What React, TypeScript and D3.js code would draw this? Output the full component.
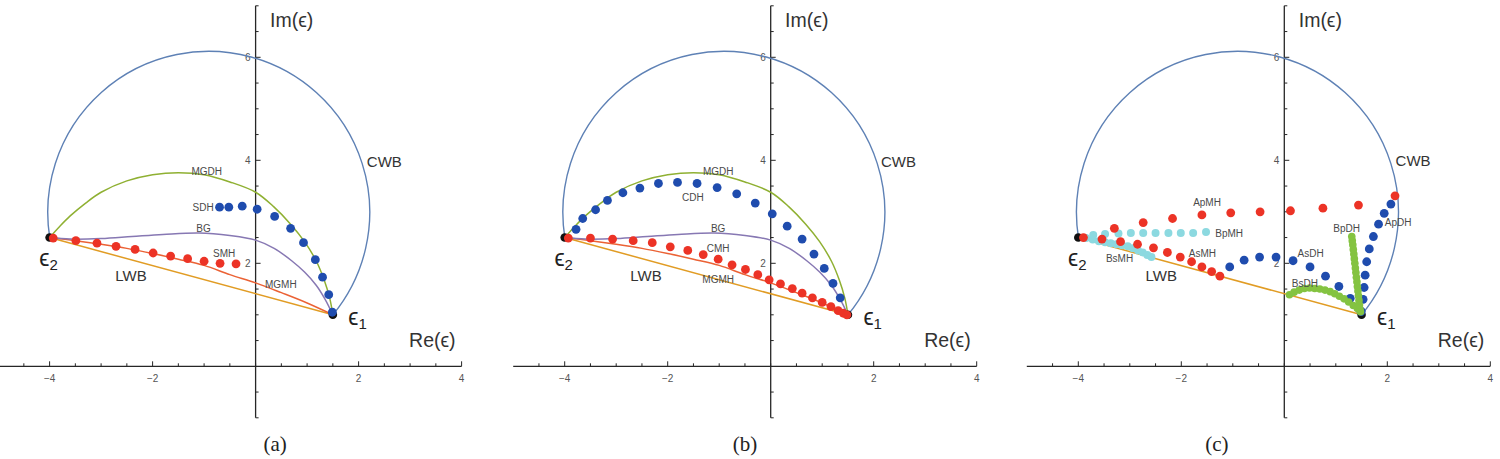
import { useEffect, useRef } from "react";
import * as d3 from "d3";

type Pt = [number, number];

// End members
const EPS1: Pt = [1.5, 1.0];
const EPS2: Pt = [-4.0, 2.5];

// Circular Wiener bound: circle arc through eps1 and eps2 (passes through 0)
const CWB_CENTER: Pt = [-0.91, 2.99];
const CWB_RADIUS = 3.126;

// Linear Wiener bound
const LWB: Pt[] = [EPS2, EPS1];

const MGDH: Pt[] = [
  [-4.0, 2.5], [-3.8, 2.72], [-3.6, 2.92], [-3.3, 3.17], [-3.0, 3.38], [-2.5, 3.6],
  [-2.0, 3.72], [-1.5, 3.76], [-1.0, 3.72], [-0.5, 3.58], [0.0, 3.38], [0.35, 3.1],
  [0.68, 2.76], [0.95, 2.42], [1.18, 2.04], [1.33, 1.68], [1.44, 1.32], [1.5, 1.0],
];

const BG: Pt[] = [
  [-4.0, 2.5], [-3.6, 2.47], [-3.0, 2.48], [-2.4, 2.52], [-1.8, 2.56], [-1.1, 2.59],
  [-0.5, 2.54], [0.0, 2.45], [0.36, 2.29], [0.7, 2.05], [0.95, 1.83], [1.18, 1.57],
  [1.35, 1.3], [1.5, 1.0],
];

const MGMH: Pt[] = [
  [-4.0, 2.5], [-3.5, 2.44], [-3.0, 2.37], [-2.5, 2.29], [-2.0, 2.19], [-1.5, 2.08],
  [-1.0, 1.96], [-0.5, 1.78], [0.0, 1.62], [0.5, 1.43], [1.0, 1.23], [1.5, 1.0],
];

// (a) spherical inclusions
const SDH: Pt[] = [
  [-0.7, 3.09], [-0.52, 3.09], [-0.26, 3.11], [0.03, 3.05], [0.37, 2.91], [0.68, 2.68],
  [0.93, 2.4], [1.16, 2.07], [1.3, 1.73], [1.42, 1.39], [1.49, 1.05],
];
const SMH: Pt[] = [
  [-3.93, 2.49], [-3.49, 2.44], [-3.08, 2.39], [-2.71, 2.33], [-2.34, 2.27], [-1.99, 2.2],
  [-1.65, 2.14], [-1.32, 2.09], [-1.0, 2.04], [-0.69, 2.0], [-0.38, 1.99],
];

// (b) cylindrical inclusions
const CDH: Pt[] = [
  [-3.78, 2.66], [-3.65, 2.87], [-3.4, 3.04], [-3.17, 3.22], [-2.87, 3.37], [-2.54, 3.46],
  [-2.18, 3.55], [-1.81, 3.57], [-1.43, 3.55], [-1.04, 3.47], [-0.66, 3.35], [-0.3, 3.17],
  [0.03, 2.96], [0.32, 2.72], [0.61, 2.47], [0.84, 2.18], [1.04, 1.9], [1.21, 1.61],
  [1.35, 1.33],
];
const CMH: Pt[] = [
  [-3.93, 2.49], [-3.5, 2.49], [-3.07, 2.47], [-2.67, 2.44], [-2.3, 2.4], [-1.95, 2.32],
  [-1.61, 2.25], [-1.31, 2.17], [-1.02, 2.08], [-0.75, 1.97], [-0.49, 1.88], [-0.25, 1.78],
  [-0.03, 1.68], [0.19, 1.6], [0.42, 1.51], [0.61, 1.42], [0.81, 1.33], [1.0, 1.24],
  [1.17, 1.16], [1.31, 1.08], [1.41, 1.03], [1.48, 1.0],
];

// (c) anisotropic inclusions
const ApMH: Pt[] = [
  [-3.9, 2.5], [-3.3, 2.68], [-2.74, 2.79], [-2.17, 2.87], [-1.6, 2.94], [-1.04, 2.98],
  [-0.47, 3.0], [0.12, 3.02], [0.75, 3.07], [1.44, 3.13], [2.15, 3.31],
];
const AsMH: Pt[] = [
  [-3.54, 2.47], [-3.18, 2.42], [-2.85, 2.37], [-2.54, 2.3], [-2.27, 2.21], [-2.02, 2.12],
  [-1.8, 2.03], [-1.6, 1.93], [-1.41, 1.84], [-1.25, 1.75],
];
const BpMH: Pt[] = [
  [-3.71, 2.55], [-3.48, 2.57], [-3.22, 2.58], [-2.98, 2.59], [-2.74, 2.59], [-2.5, 2.59],
  [-2.25, 2.59], [-2.01, 2.59], [-1.77, 2.59], [-1.52, 2.61],
];
const BsMH: Pt[] = [
  [-3.85, 2.49], [-3.72, 2.46], [-3.6, 2.43], [-3.48, 2.41], [-3.37, 2.39], [-3.26, 2.37],
  [-3.15, 2.35], [-3.04, 2.33], [-2.94, 2.29], [-2.84, 2.25], [-2.75, 2.21], [-2.66, 2.16],
  [-2.58, 2.12],
];
const ApDH: Pt[] = [
  [1.49, 1.06], [1.53, 1.3], [1.55, 1.53], [1.57, 1.77], [1.6, 2.03], [1.65, 2.28],
  [1.73, 2.52], [1.83, 2.76], [1.94, 2.97], [2.07, 3.15],
];
const AsDH: Pt[] = [
  [-1.06, 1.93], [-0.78, 2.06], [-0.48, 2.12], [-0.16, 2.12], [0.17, 2.05], [0.5, 1.93],
  [0.8, 1.75], [1.06, 1.55], [1.28, 1.32], [1.49, 1.07],
];
const BpDH: Pt[] = [
  [1.47, 1.1], [1.46, 1.19], [1.45, 1.28], [1.44, 1.37], [1.43, 1.46], [1.42, 1.55],
  [1.41, 1.64], [1.4, 1.73], [1.39, 1.82], [1.38, 1.91], [1.37, 2.0], [1.36, 2.09],
  [1.35, 2.18], [1.34, 2.27], [1.33, 2.36], [1.32, 2.44], [1.31, 2.52],
];
const BsDH: Pt[] = [
  [0.1, 1.39], [0.19, 1.44], [0.29, 1.48], [0.39, 1.51], [0.49, 1.52], [0.59, 1.51],
  [0.69, 1.5], [0.79, 1.48], [0.89, 1.45], [0.98, 1.41], [1.07, 1.36], [1.16, 1.31],
  [1.25, 1.25], [1.34, 1.18], [1.42, 1.12], [1.48, 1.06],
];

const X_TICKS = [-4, -2, 2, 4];
const Y_TICKS = [2, 4, 6];
const CAPTIONS = ["(a)", "(b)", "(c)"];

const C_BLUE = "#5e81b5";
const C_ORANGE = "#e19c24";
const C_GREEN = "#8fb032";
const C_RED = "#eb6235";
const C_PURPLE = "#8778b3";
const D_BLUE = "#1f4cae";
const D_RED = "#ec3326";
const D_CYAN = "#8cd9e0";
const D_GREEN = "#84c341";

type Curve = { pts: Pt[]; color: string };
type Dots = { pts: Pt[]; color: string; r: number };
type Label = { text: string; at: Pt; size: number };

type Panel = {
  zeroX: number;
  curves: Curve[];
  dots: Dots[];
  labels: Label[];
  caption: Pt;
};

const PANELS: Panel[] = [
  {
    zeroX: 255.6,
    curves: [
      { pts: LWB, color: C_ORANGE },
      { pts: MGMH, color: C_RED },
      { pts: BG, color: C_PURPLE },
      { pts: MGDH, color: C_GREEN },
    ],
    dots: [
      { pts: SMH, color: D_RED, r: 4.4 },
      { pts: SDH, color: D_BLUE, r: 4.4 },
    ],
    labels: [
      { text: "MGDH", at: [-0.95, 3.79], size: 10 },
      { text: "SDH", at: [-1.02, 3.08], size: 10 },
      { text: "BG", at: [-1.01, 2.67], size: 10 },
      { text: "SMH", at: [-0.61, 2.19], size: 10 },
      { text: "MGMH", at: [0.49, 1.58], size: 10 },
      { text: "CWB", at: [2.5, 3.97], size: 15 },
      { text: "LWB", at: [-2.42, 1.76], size: 15 },
    ],
    caption: [0.38, -1.64],
  },
  {
    zeroX: 770.7,
    curves: [
      { pts: LWB, color: C_ORANGE },
      { pts: MGMH, color: C_RED },
      { pts: BG, color: C_PURPLE },
      { pts: MGDH, color: C_GREEN },
    ],
    dots: [
      { pts: CDH, color: D_BLUE, r: 4.4 },
      { pts: CMH, color: D_RED, r: 4.4 },
    ],
    labels: [
      { text: "MGDH", at: [-1.02, 3.79], size: 10 },
      { text: "CDH", at: [-1.51, 3.28], size: 10 },
      { text: "BG", at: [-1.02, 2.68], size: 10 },
      { text: "CMH", at: [-1.02, 2.28], size: 10 },
      { text: "MGMH", at: [-1.02, 1.68], size: 10 },
      { text: "CWB", at: [2.48, 3.97], size: 15 },
      { text: "LWB", at: [-2.42, 1.76], size: 15 },
    ],
    caption: [-0.5, -1.64],
  },
  {
    zeroX: 1284.3,
    curves: [{ pts: LWB, color: C_ORANGE }],
    dots: [
      { pts: BsMH, color: D_CYAN, r: 4 },
      { pts: BpMH, color: D_CYAN, r: 4 },
      { pts: AsDH, color: D_BLUE, r: 4.4 },
      { pts: ApDH, color: D_BLUE, r: 4.4 },
      { pts: AsMH, color: D_RED, r: 4.4 },
      { pts: ApMH, color: D_RED, r: 4.4 },
      { pts: BsDH, color: D_GREEN, r: 3.8 },
      { pts: BpDH, color: D_GREEN, r: 3.8 },
    ],
    labels: [
      { text: "ApMH", at: [-1.5, 3.18], size: 10 },
      { text: "BpMH", at: [-1.07, 2.58], size: 10 },
      { text: "AsMH", at: [-1.59, 2.19], size: 10 },
      { text: "BsMH", at: [-3.2, 2.1], size: 10 },
      { text: "AsDH", at: [0.51, 2.19], size: 10 },
      { text: "BsDH", at: [0.4, 1.6], size: 10 },
      { text: "BpDH", at: [1.21, 2.68], size: 10 },
      { text: "ApDH", at: [2.21, 2.79], size: 10 },
      { text: "CWB", at: [2.5, 3.99], size: 15 },
      { text: "LWB", at: [-2.39, 1.77], size: 15 },
    ],
    caption: [-1.31, -1.64],
  },
];

const UNIT = 51.5;
const ZERO_Y = 366.3;
const SANS = "'Liberation Sans', Arial, 'DejaVu Sans', sans-serif";

export default function App() {
  const ref = useRef<SVGSVGElement>(null);

  useEffect(() => {
    const svg = d3.select(ref.current);
    svg.selectAll("*").remove();

    const y = d3.scaleLinear().domain([-1, 7]).range([ZERO_Y + UNIT, ZERO_Y - 7 * UNIT]);

    PANELS.forEach((panel, i) => {
      const x = d3.scaleLinear()
        .domain([-5, 4])
        .range([panel.zeroX - 5 * UNIT, panel.zeroX + 4 * UNIT]);
      const g = svg.append("g");

      // Axes
      const axisColor = "#262626";
      g.append("line")
        .attr("x1", x(-5)).attr("x2", x(4))
        .attr("y1", y(0)).attr("y2", y(0))
        .attr("stroke", axisColor).attr("stroke-width", 1.3);
      g.append("line")
        .attr("x1", x(0)).attr("x2", x(0))
        .attr("y1", y(-1)).attr("y2", y(7))
        .attr("stroke", axisColor).attr("stroke-width", 1.3);

      // x ticks point up, every 0.5
      d3.range(-4.5, 4.01, 0.5).forEach(v => {
        const major = X_TICKS.includes(v);
        g.append("line")
          .attr("x1", x(v)).attr("x2", x(v))
          .attr("y1", y(0)).attr("y2", y(0) - (major ? 5 : 3))
          .attr("stroke", axisColor).attr("stroke-width", 1);
      });
      // y ticks point right, every 0.5
      d3.range(-1, 7.01, 0.5).forEach(v => {
        if (v === 0) return;
        const major = Y_TICKS.includes(v);
        g.append("line")
          .attr("x1", x(0)).attr("x2", x(0) + (major ? 5 : 3))
          .attr("y1", y(v)).attr("y2", y(v))
          .attr("stroke", axisColor).attr("stroke-width", 1);
      });

      g.selectAll(".xtl")
        .data(X_TICKS)
        .enter()
        .append("text")
        .attr("x", d => x(d))
        .attr("y", y(0) + 12)
        .attr("text-anchor", "middle")
        .attr("dominant-baseline", "central")
        .attr("font-family", SANS)
        .attr("font-size", "10px")
        .attr("fill", "#555")
        .text(d => (d < 0 ? `\u2212${-d}` : `${d}`));

      g.selectAll(".ytl")
        .data(Y_TICKS)
        .enter()
        .append("text")
        .attr("x", x(0) - 5)
        .attr("y", d => y(d))
        .attr("text-anchor", "end")
        .attr("dominant-baseline", "central")
        .attr("font-family", SANS)
        .attr("font-size", "10px")
        .attr("fill", "#555")
        .text(d => `${d}`);

      // CWB arc over the top, from eps1 to eps2
      const cx = x(CWB_CENTER[0]);
      const cy = y(CWB_CENTER[1]);
      const r = x(CWB_RADIUS) - x(0);
      const a1 = Math.atan2(y(EPS1[1]) - cy, x(EPS1[0]) - cx);
      const a2 = Math.atan2(y(EPS2[1]) - cy, x(EPS2[0]) - cx);
      const arc = d3.path();
      arc.arc(cx, cy, r, a1, a2, true);
      g.append("path")
        .attr("d", arc.toString())
        .attr("fill", "none")
        .attr("stroke", C_BLUE)
        .attr("stroke-width", 1.4);

      const line = d3.line<Pt>()
        .x(d => x(d[0]))
        .y(d => y(d[1]))
        .curve(d3.curveCatmullRom.alpha(0.5));

      panel.curves.forEach(c => {
        g.append("path")
          .attr("d", line(c.pts))
          .attr("fill", "none")
          .attr("stroke", c.color)
          .attr("stroke-width", 1.5);
      });

      // End-member points
      [EPS1, EPS2].forEach(p => {
        g.append("circle")
          .attr("cx", x(p[0])).attr("cy", y(p[1]))
          .attr("r", 4.3)
          .attr("fill", "#111");
      });

      panel.dots.forEach(s => {
        g.selectAll(null)
          .data(s.pts)
          .enter()
          .append("circle")
          .attr("cx", d => x(d[0]))
          .attr("cy", d => y(d[1]))
          .attr("r", s.r)
          .attr("fill", s.color);
      });

      panel.labels.forEach(l => {
        g.append("text")
          .attr("x", x(l.at[0]))
          .attr("y", y(l.at[1]))
          .attr("text-anchor", "middle")
          .attr("dominant-baseline", "central")
          .attr("font-family", SANS)
          .attr("font-size", `${l.size}px`)
          .attr("fill", l.size > 12 ? "#333" : "#4a4a4a")
          .text(l.text);
      });

      // eps labels
      const epsLabel = (at: Pt, sub: string) => {
        const t = g.append("text")
          .attr("x", x(at[0]))
          .attr("y", y(at[1]))
          .attr("text-anchor", "middle")
          .attr("font-family", SANS)
          .attr("font-size", "23px")
          .attr("fill", "#222");
        t.append("tspan").text("\u03f5");
        t.append("tspan").attr("font-size", "15px").attr("dy", 4).text(sub);
      };
      epsLabel([-4.02, 1.95], "2");
      epsLabel([1.98, 0.8], "1");

      g.append("text")
        .attr("x", x(0.28))
        .attr("y", y(6.59))
        .attr("font-family", SANS)
        .attr("font-size", "19.5px")
        .attr("fill", "#333")
        .text("Im(\u03f5)");
      g.append("text")
        .attr("x", x(2.98))
        .attr("y", y(0.37))
        .attr("font-family", SANS)
        .attr("font-size", "19.5px")
        .attr("fill", "#333")
        .text("Re(\u03f5)");

      g.append("text")
        .attr("x", x(panel.caption[0]))
        .attr("y", y(panel.caption[1]))
        .attr("text-anchor", "middle")
        .attr("font-family", "'Liberation Serif', 'DejaVu Serif', serif")
        .attr("font-size", "21px")
        .attr("fill", "#222")
        .text(CAPTIONS[i]);
    });
  }, []);

  return (
    <svg
      ref={ref}
      width={1500}
      height={459}
      style={{ position: "absolute", left: 0, top: 0, background: "#fff" }}
    />
  );
}
